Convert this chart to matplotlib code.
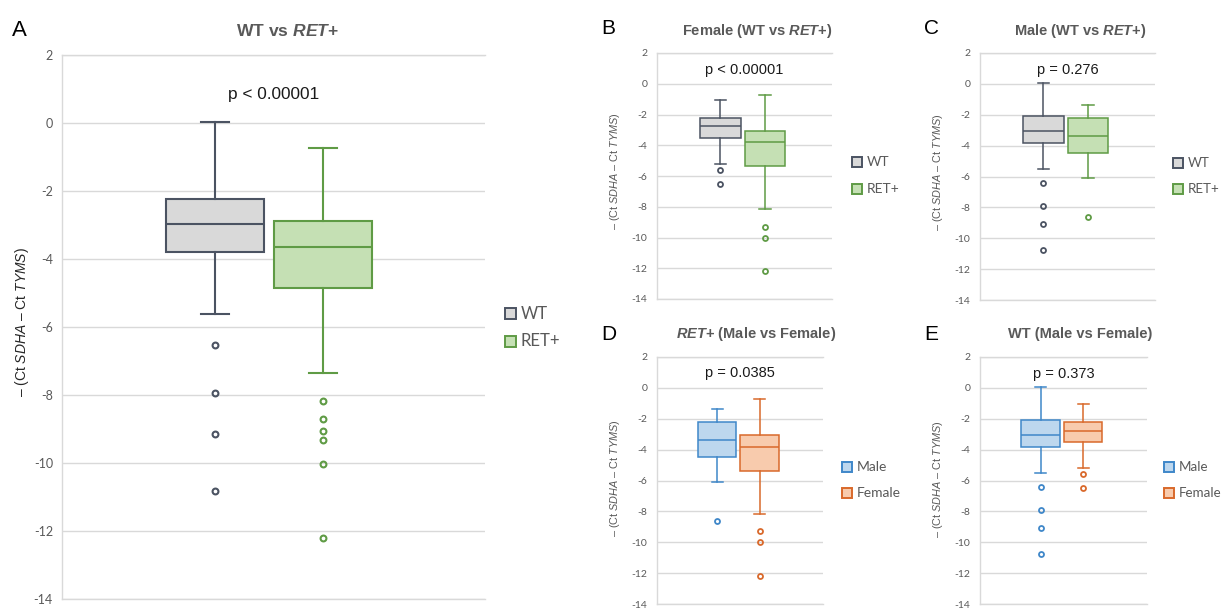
import matplotlib
matplotlib.use('Agg')
import matplotlib.pyplot as plt
from matplotlib.patches import Rectangle

plt.rcParams['font.family'] = ['Liberation Sans', 'DejaVu Sans']
plt.rcParams['axes.unicode_minus'] = False
plt.rcParams['mathtext.fontset'] = 'custom'
plt.rcParams['mathtext.rm'] = 'Liberation Sans'
plt.rcParams['mathtext.it'] = 'Liberation Sans:italic'
plt.rcParams['mathtext.bf'] = 'Liberation Sans:bold'
plt.rcParams['mathtext.bfit'] = 'Liberation Sans:italic:bold'

# box summaries: [lower whisker, Q1, median, Q3, upper whisker] + outliers
wt_all = [-5.63, -3.79, -2.97, -2.23, 0.03]
wt_all_out = [-6.53, -7.94, -9.15, -10.82]
ret_all = [-7.34, -4.85, -3.65, -2.87, -0.74]
ret_all_out = [-8.18, -8.70, -9.05, -9.32, -10.04, -12.21]

wt_female = [-5.19, -3.51, -2.78, -2.21, -1.03]
wt_female_out = [-5.60, -6.50]
ret_female = [-8.15, -5.36, -3.80, -3.08, -0.72]
ret_female_out = [-9.29, -10.01, -12.20]

wt_male = [-5.54, -3.83, -3.07, -2.11, 0.05]
wt_male_out = [-6.41, -7.90, -9.09, -10.76]
ret_male = [-6.08, -4.49, -3.35, -2.21, -1.35]
ret_male_out = [-8.65]

y_ticks = [2, 0, -2, -4, -6, -8, -10, -12, -14]

titles = ['WT vs $\\mathbfit{RET}$+', 'Female (WT vs $\\mathbfit{RET}$+)',
          'Male (WT vs $\\mathbfit{RET}$+)', '$\\mathbfit{RET}$+ (Male vs Female)',
          'WT (Male vs Female)']
p_values = ['p < 0.00001', 'p < 0.00001', 'p = 0.276', 'p = 0.0385', 'p = 0.373']
letters = ['A', 'B', 'C', 'D', 'E']
ylabel = '\u2013 (Ct $\\it{SDHA}$ \u2013 Ct $\\it{TYMS}$)'

GRAY = ('#d9d9d9', '#4b5362')
GREEN = ('#c5e0b4', '#5f9b45')
BLUE = ('#bdd7ee', '#3f87c9')
ORANGE = ('#f8cbad', '#d9692b')

W, H = 1221, 608
fig = plt.figure(figsize=(W / 100, H / 100), dpi=100)


def fx(x):
    return x / W


def fy(y):
    return 1 - y / H


def stats(five, out):
    return dict(whislo=five[0], q1=five[1], med=five[2], q3=five[3],
                whishi=five[4], fliers=out)


def panel(box, groups, big=False):
    l, t, r, b = box
    ax = fig.add_axes([fx(l), fy(b), fx(r - l), (b - t) / H])
    lw = 1.5 if big else 1.1
    for i, (five, out, col) in enumerate(groups):
        face, edge = col
        pos = 0.49 + (i - 0.5) * 0.255
        ax.bxp([stats(five, out)], positions=[pos], widths=0.232,
               capwidths=0.066, patch_artist=True, manage_ticks=False,
               boxprops=dict(facecolor=face, edgecolor=edge, linewidth=lw),
               medianprops=dict(color=edge, linewidth=lw),
               whiskerprops=dict(color=edge, linewidth=lw),
               capprops=dict(color=edge, linewidth=lw),
               flierprops=dict(marker='o', markerfacecolor='none',
                               markeredgecolor=edge,
                               markersize=4.2 if big else 3.6,
                               markeredgewidth=1.5 if big else 1.3))
    ax.set_xlim(0, 1)
    ax.set_ylim(-14, 2)
    ax.set_yticks(y_ticks)
    ax.set_xticks([])
    ax.grid(axis='y', color='#d9d9d9', linewidth=1)
    ax.set_axisbelow(True)
    ax.spines['right'].set_visible(False)
    for s in ['left', 'top', 'bottom']:
        ax.spines[s].set_color('#d9d9d9')
        ax.spines[s].set_linewidth(1)
    ax.tick_params(axis='y', length=0, pad=6.5 if big else 7,
                   labelsize=9 if big else 7.5, labelcolor='#595959')
    for lab in ax.get_yticklabels():
        lab.set_family(['Lato', 'DejaVu Sans'])
    return ax


def legend(x, ys, names, cols, size):
    for y, name, col in zip(ys, names, cols):
        face, edge = col
        sq = 11 if size > 10 else 10
        fig.patches.append(Rectangle((fx(x), fy(y + sq / 2)), sq / W, sq / H,
                                     transform=fig.transFigure,
                                     facecolor=face, edgecolor=edge,
                                     linewidth=1.4))
        fig.text(fx(x + sq + 5), fy(y), name, fontsize=size, color='#595959',
                 va='center', ha='left', family=['Lato', 'DejaVu Sans'])


# panel A
axA = panel((62, 55, 485, 599), [(wt_all, wt_all_out, GRAY),
                                 (ret_all, ret_all_out, GREEN)], big=True)
# panel B
axB = panel((657, 53, 832, 299), [(wt_female, wt_female_out, GRAY),
                                  (ret_female, ret_female_out, GREEN)])
# panel C
axC = panel((980, 53, 1155, 300), [(wt_male, wt_male_out, GRAY),
                                   (ret_male, ret_male_out, GREEN)])
# panel D
axD = panel((657, 357, 823, 604), [(ret_male, ret_male_out, BLUE),
                                   (ret_female, ret_female_out, ORANGE)])
# panel E
axE = panel((980, 357, 1147, 604), [(wt_male, wt_male_out, BLUE),
                                    (wt_female, wt_female_out, ORANGE)])

axes = [axA, axB, axC, axD, axE]
title_pos = [(287, 31), (757, 31), (1080, 31), (756, 334), (1080, 334)]
letter_pos = [(12, 30), (601, 28), (924, 28), (601, 334), (924, 334)]
p_y = [0.85, 0.9, 0.9, 0.95, 0.92]
ylab_pos = [(22, 322), (615, 171), (938, 172), (615, 478), (938, 479)]

for i, ax in enumerate(axes):
    big = i == 0
    tx, ty = title_pos[i]
    fig.text(fx(tx), fy(ty), titles[i], ha='center', va='center',
             fontsize=12.6 if big else 10.5, fontweight='bold', color='#595959')
    lx, ly = letter_pos[i]
    fig.text(fx(lx), fy(ly), letters[i], ha='left', va='center',
             fontsize=16 if big else 15, color='black')
    ax.text(0.5, p_y[i], p_values[i], ha='center', va='center',
            fontsize=12.4 if big else 10.5, color='#1a1a1a')
    yx, yy = ylab_pos[i]
    fig.text(fx(yx), fy(yy), ylabel, rotation=90, ha='center', va='center',
             fontsize=10 if big else 7.8,
             color='#262626' if big else '#595959')

legend(505, [314, 341], ['WT', 'RET+'], [GRAY, GREEN], 12)
legend(852, [162, 189], ['WT', 'RET+'], [GRAY, GREEN], 10)
legend(1173, [163, 189], ['WT', 'RET+'], [GRAY, GREEN], 9.6)
legend(842, [467, 493], ['Male', 'Female'], [BLUE, ORANGE], 10)
legend(1164, [467, 493], ['Male', 'Female'], [BLUE, ORANGE], 9.6)

fig.savefig('out.png', dpi=100)
